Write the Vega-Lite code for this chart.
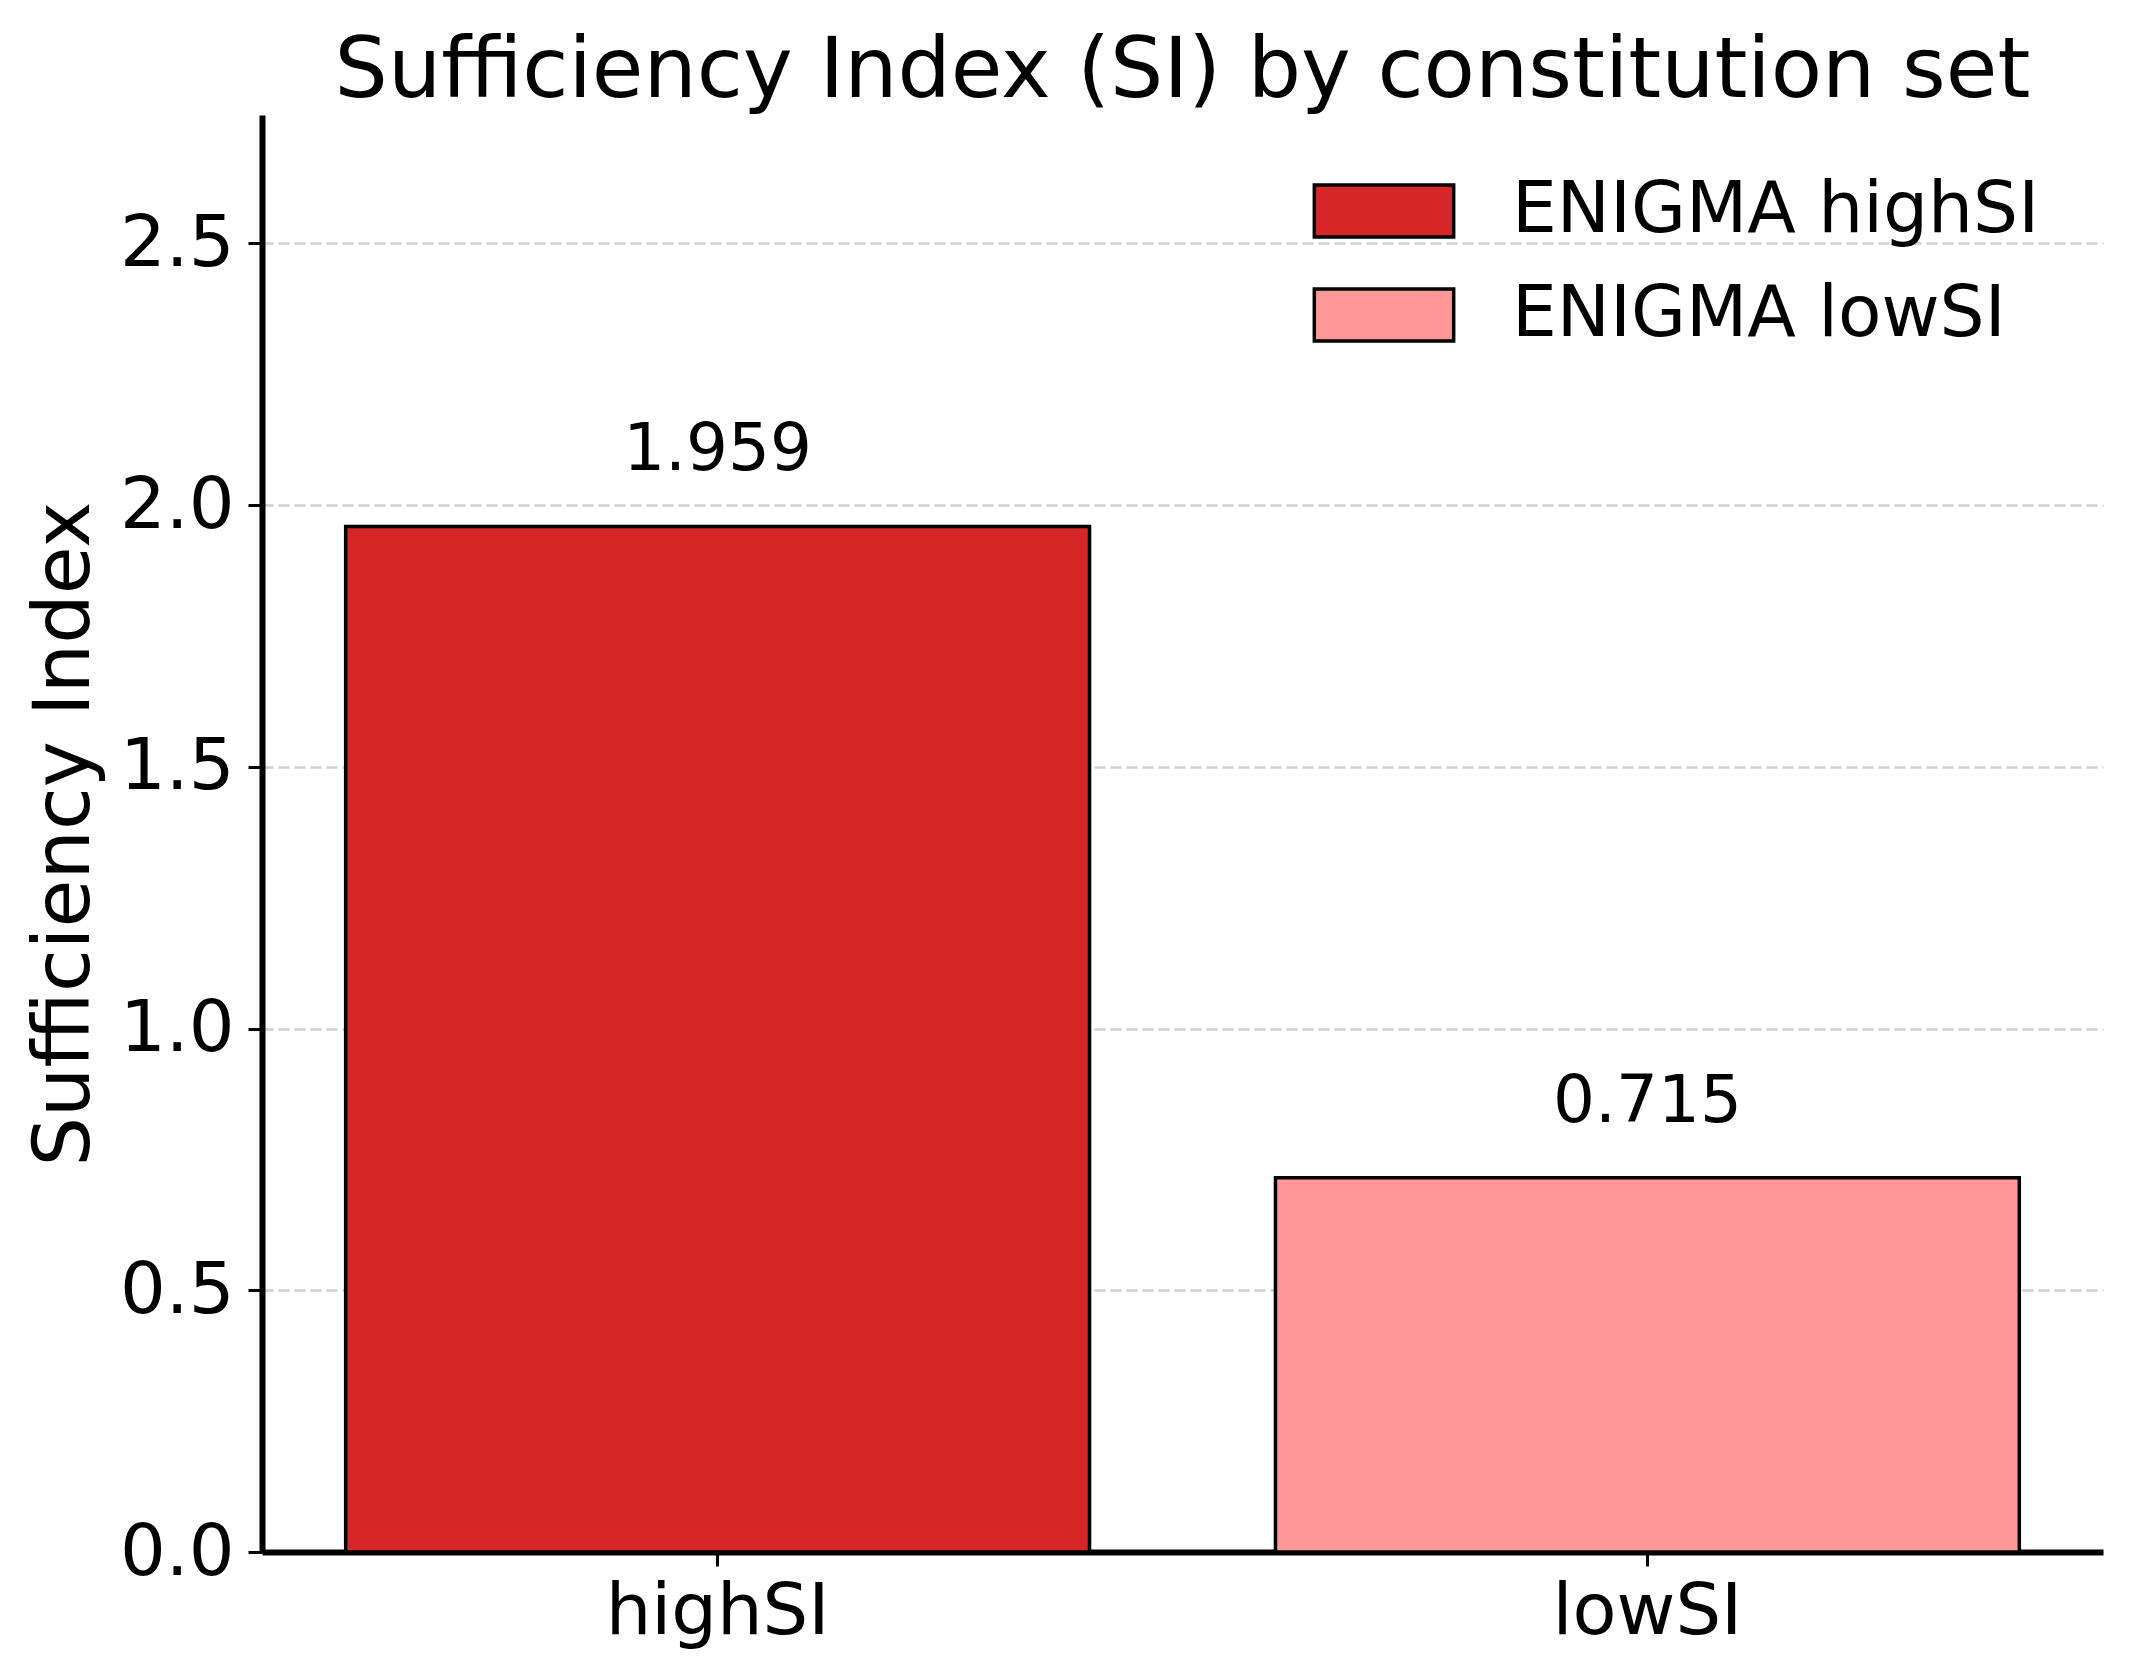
{
  "$schema": "https://vega.github.io/schema/vega-lite/v6.json",
  "autosize": {"type": "none"},
  "padding": {"left": 262, "top": 115, "right": 26, "bottom": 128},
  "width": 1841,
  "height": 1437,
  "background": "white",
  "config": {
    "font": "DejaVu Sans",
    "view": {"stroke": null},
    "axis": {
      "labelFont": "DejaVu Sans",
      "titleFont": "DejaVu Sans",
      "labelColor": "black",
      "titleColor": "black",
      "domainColor": "black",
      "tickColor": "black"
    }
  },
  "title": {
    "text": "Sufficiency Index (SI) by constitution set",
    "font": "DejaVu Sans",
    "fontSize": 84,
    "fontWeight": "normal",
    "color": "black",
    "anchor": "middle",
    "baseline": "alphabetic",
    "offset": -66
  },
  "data": {
    "values": [
      {"set": "highSI", "legend": "ENIGMA highSI", "si": 1.959, "label": "1.959"},
      {"set": "lowSI", "legend": "ENIGMA lowSI", "si": 0.715, "label": "0.715"}
    ]
  },
  "encoding": {
    "x": {
      "field": "set",
      "type": "nominal",
      "sort": ["highSI", "lowSI"],
      "scale": {"paddingInner": 0.2, "paddingOuter": 0.09},
      "axis": {
        "title": null,
        "labelAngle": 0,
        "labelFontSize": 72,
        "labelPadding": 10,
        "labelLimit": 1000,
        "domainWidth": 6,
        "tickWidth": 3,
        "tickSize": 14,
        "grid": false
      }
    },
    "y": {
      "field": "si",
      "type": "quantitative",
      "scale": {"domain": [0, 2.745], "nice": false, "zero": true},
      "axis": {
        "title": "Sufficiency Index",
        "titleFontSize": 78,
        "titleFontWeight": "normal",
        "titlePadding": 15,
        "values": [0, 0.5, 1, 1.5, 2, 2.5],
        "format": ".1f",
        "labelFontSize": 72,
        "labelPadding": 14,
        "domainWidth": 6,
        "tickWidth": 3,
        "tickSize": 14,
        "grid": true,
        "gridColor": "#d0d0d0",
        "gridWidth": 2.5,
        "gridDash": [11, 5]
      }
    }
  },
  "layer": [
    {
      "mark": {"type": "bar", "stroke": "black", "strokeWidth": 3.5},
      "encoding": {
        "color": {
          "field": "legend",
          "type": "nominal",
          "scale": {"domain": ["ENIGMA highSI", "ENIGMA lowSI"], "range": ["#d62728", "#ff9896"]},
          "legend": {
            "title": null,
            "orient": "none",
            "legendX": 1068,
            "legendY": 42,
            "padding": 0,
            "symbolType": "M-1.34,-0.5H1.34V0.5H-1.34Z",
            "symbolSize": 10816,
            "symbolStrokeColor": "black",
            "symbolStrokeWidth": 3.5,
            "symbolOpacity": 1,
            "labelFont": "DejaVu Sans",
            "labelFontSize": 71,
            "labelColor": "black",
            "labelOffset": 74,
            "labelLimit": 1000,
            "rowPadding": 15
          }
        }
      }
    },
    {
      "mark": {"type": "text", "fontSize": 66, "font": "DejaVu Sans", "color": "black", "baseline": "alphabetic", "align": "center", "dy": -56},
      "encoding": {
        "text": {"field": "label"}
      }
    }
  ]
}
